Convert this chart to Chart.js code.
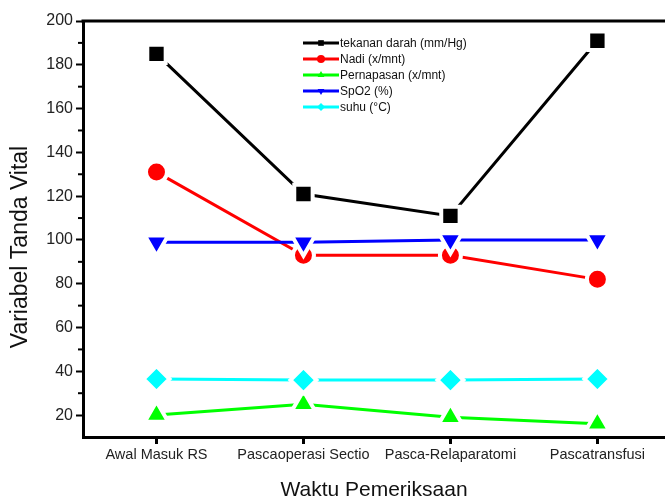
<!DOCTYPE html>
<html>
<head>
<meta charset="utf-8">
<script src="https://cdn.jsdelivr.net/npm/chart.js@4.4.1/dist/chart.umd.min.js"></script>
<style>
  html, body { margin: 0; padding: 0; background: #fff; overflow: hidden; }
  #wrap { width: 665px; height: 504px; }
</style>
</head>
<body>
<div id="wrap"><canvas id="chart" width="665" height="504"></canvas></div>
<script>
const waktu = ['Awal Masuk RS', 'Pascaoperasi Sectio', 'Pasca-Relaparatomi', 'Pascatransfusi'];
const tekananDarah = [185, 121, 111, 191];
const nadi = [131, 93, 93, 82];
const pernapasan = [20, 25, 19, 16];
const spo2 = [99, 99, 100, 100];
const suhu = [36.5, 36, 36, 36.5];
const yTicks = [20, 40, 60, 80, 100, 120, 140, 160, 180, 200];

const FONT = '"Liberation Sans", Arial, sans-serif';

function series(label, values, color, style, radius, rotation) {
  return {
    label: label,
    data: values.map((v, i) => ({ x: i, y: v })),
    borderColor: color,
    backgroundColor: color,
    borderWidth: 3,
    pointStyle: style,
    pointRadius: radius,
    pointRotation: rotation || 0,
    pointBackgroundColor: color,
    pointBorderColor: '#fff',
    pointBorderWidth: 4,
    tension: 0,
    clip: false
  };
}

const datasets = [
  series('tekanan darah (mm/Hg)', tekananDarah, '#000000', 'rect', 13),
  series('Nadi (x/mnt)', nadi, '#ff0000', 'circle', 10.5),
  series('Pernapasan (x/mnt)', pernapasan, '#00ff00', 'triangle', 13.5),
  series('SpO2 (%)', spo2, '#0000ff', 'triangle', 13.5, 180),
  series('suhu (°C)', suhu, '#00ffff', 'rectRot', 13)
];
// later series on top, like the original
datasets.forEach((d, i) => { d.order = datasets.length - i; });

const framePlugin = {
  id: 'frame',
  afterDraw(chart) {
    const ctx = chart.ctx;
    const area = chart.chartArea;
    const y = chart.scales.y;

    ctx.save();
    // top border
    ctx.strokeStyle = '#000';
    ctx.lineWidth = 3;
    ctx.beginPath();
    ctx.moveTo(area.left - 1.5, area.top);
    ctx.lineTo(area.right, area.top);
    ctx.stroke();

    // minor ticks
    ctx.lineWidth = 2;
    for (let v = 30; v < 200; v += 20) {
      const py = y.getPixelForValue(v);
      ctx.beginPath();
      ctx.moveTo(area.left - 5, py);
      ctx.lineTo(area.left, py);
      ctx.stroke();
    }

    // y axis title, sits a bit below the axis middle in the original
    ctx.fillStyle = '#111';
    ctx.font = '23px ' + FONT;
    ctx.textAlign = 'center';
    ctx.textBaseline = 'middle';
    ctx.translate(21, (area.top + area.bottom) / 2 + 18);
    ctx.rotate(-Math.PI / 2);
    ctx.fillText('Variabel Tanda Vital', 0, 0);
    ctx.setTransform(1, 0, 0, 1, 0, 0);

    // legend inside plot
    const lx = area.left + 220;
    const ly = area.top + 22;
    const rowH = 16;
    ctx.font = '12px ' + FONT;
    ctx.textBaseline = 'middle';
    ctx.textAlign = 'left';
    chart.data.datasets.forEach((d, i) => {
      const ry = ly + i * rowH;
      ctx.strokeStyle = d.borderColor;
      ctx.lineWidth = 3;
      ctx.beginPath();
      ctx.moveTo(lx, ry);
      ctx.lineTo(lx + 36, ry);
      ctx.stroke();
      ctx.fillStyle = d.borderColor;
      Chart.helpers.drawPoint(ctx, {
        pointStyle: d.pointStyle,
        radius: 4,
        rotation: d.pointRotation,
        borderWidth: 0
      }, lx + 18, ry);
      ctx.fillStyle = '#111';
      ctx.fillText(d.label, lx + 37, ry + 0.5);
    });
    ctx.restore();
  }
};

new Chart(document.getElementById('chart'), {
  type: 'line',
  data: { datasets: datasets },
  options: {
    responsive: false,
    animation: false,
    layout: { autoPadding: false, padding: { top: 21, right: 0, left: 0, bottom: 0 } },
    plugins: {
      legend: { display: false },
      tooltip: { enabled: false }
    },
    scales: {
      x: {
        type: 'linear',
        min: -0.5,
        max: 3.46,
        afterBuildTicks(scale) {
          scale.ticks = waktu.map((_, i) => ({ value: i }));
        },
        afterFit(scale) {
          scale.height = 67;
          scale.paddingLeft = 0;
          scale.paddingRight = 0;
        },
        ticks: {
          callback: (v) => waktu[v],
          color: '#222',
          font: { family: FONT, size: 14.5 },
          padding: 2,
          maxRotation: 0,
          autoSkip: false
        },
        grid: {
          drawOnChartArea: false,
          tickLength: 7,
          tickWidth: 3,
          tickColor: '#000'
        },
        border: { color: '#000', width: 3 },
        title: {
          display: true,
          text: 'Waktu Pemeriksaan',
          color: '#111',
          font: { family: FONT, size: 21 },
          padding: { top: 0, bottom: 1 }
        }
      },
      y: {
        type: 'linear',
        min: 10,
        max: 200,
        afterBuildTicks(scale) {
          scale.ticks = yTicks.map(v => ({ value: v }));
        },
        afterFit(scale) {
          scale.width = 83;
          scale.paddingTop = 0;
          scale.paddingBottom = 0;
        },
        ticks: {
          color: '#222',
          font: { family: FONT, size: 16 },
          padding: 3
        },
        grid: {
          drawOnChartArea: false,
          tickLength: 7,
          tickWidth: 2,
          tickColor: '#000'
        },
        border: { color: '#000', width: 3 }
      }
    }
  },
  plugins: [framePlugin]
});
</script>
</body>
</html>
